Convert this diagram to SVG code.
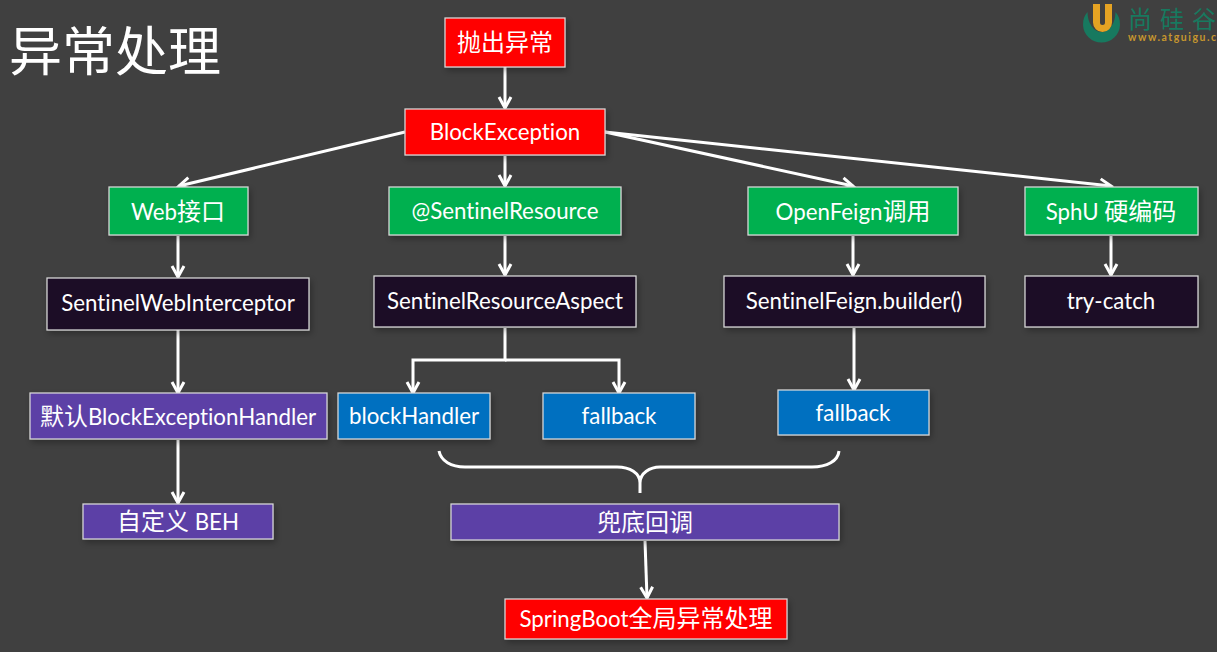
<svg xmlns="http://www.w3.org/2000/svg" width="1217" height="652" viewBox="0 0 1217 652">
<style>
text{font-family:Lato,"Noto Sans CJK SC",sans-serif;fill:#fff;font-size:22.300px;text-anchor:middle;font-variant-ligatures:none}
tspan{font-family:"Noto Sans CJK SC",sans-serif;font-size:24px}
.n rect{stroke:#d9d9d9;stroke-width:1.25;filter:url(#s)}
.r rect{fill:#ff0000}.g rect{fill:#00b050}.k rect{fill:#1e1028}.p rect{fill:#5b3fa6}.b rect{fill:#0070c0}
.c{fill:none;stroke:#fff;stroke-width:3}
</style>
<defs>
<filter id="s" x="-10%" y="-20%" width="120%" height="150%"><feDropShadow dx="2" dy="3" stdDeviation="3" flood-color="#000" flood-opacity=".3"/></filter>
<marker id="a" markerUnits="userSpaceOnUse" markerWidth="16" markerHeight="16" refX="13" refY="8" orient="auto"><path d="M2 2 L13 8 L2 14" fill="none" stroke="#fff" stroke-width="3"/></marker>
</defs>
<rect width="1217" height="652" fill="#404040"/>
<text x="115" y="71" style="font-size:53px;font-family:'Noto Sans CJK SC',sans-serif">异常处理</text>
<g id="logo">
<path d="M1087.500 12 A18.500 18.500 0 1 0 1115.500 12 A14 20 0 0 1 1087.500 12 Z" fill="#17795f"/>
<path d="M1096.500 4V22.500A6 6 0 0 0 1108.500 22.500V4" fill="none" stroke="#e5a323" stroke-width="7"/>
<text x="1128" y="28" textLength="88" style="font-size:24px;fill:#17795f;text-anchor:start;font-family:'Noto Sans CJK SC',sans-serif">尚硅谷</text>
<text x="1128" y="41" textLength="88" style="font-size:10.500px;fill:#c6962e;font-weight:700;text-anchor:start">www.atguigu.c</text>
</g>
<g id="connectors">
<path class="c" marker-end="url(#a)" d="M505 67V108"/>
<path class="c" marker-end="url(#a)" d="M405 132L179 186"/>
<path class="c" marker-end="url(#a)" d="M505 156V186"/>
<path class="c" marker-end="url(#a)" d="M605 132L853 186"/>
<path class="c" marker-end="url(#a)" d="M605 132L1111 186"/>
<path class="c" marker-end="url(#a)" d="M178 236V277"/>
<path class="c" marker-end="url(#a)" d="M505 236V275"/>
<path class="c" marker-end="url(#a)" d="M853 236V275"/>
<path class="c" marker-end="url(#a)" d="M1111 236V275"/>
<path class="c" marker-end="url(#a)" d="M178 330V393"/>
<path class="c" marker-end="url(#a)" d="M178 440V503"/>
<path class="c" marker-end="url(#a)" d="M505 328V360H413V393"/>
<path class="c" marker-end="url(#a)" d="M505 360H619V393"/>
<path class="c" marker-end="url(#a)" d="M854 328V390"/>
<path class="c" d="M439 451C441 461 451 467 465 467H617C630 467 640 473 640 483V493M640 483C640 473 650 467 660 467H812C827 467 838 461 839 451"/>
<path class="c" marker-end="url(#a)" d="M645 541L647 598"/>
</g>
<g id="n1" class="n r"><rect x="445" y="18" width="120" height="49"/><text x="505" y="51"><tspan>抛出异常</tspan></text></g>
<g id="n2" class="n r"><rect x="405" y="109" width="200" height="46"/><text x="505" y="140">BlockException</text></g>
<g id="n3" class="n g"><rect x="109" y="187" width="139" height="48"/><text x="178" y="220">Web<tspan>接口</tspan></text></g>
<g id="n4" class="n g"><rect x="389" y="187" width="232" height="48"/><text x="505" y="219">@SentinelResource</text></g>
<g id="n5" class="n g"><rect x="748" y="187" width="210" height="48"/><text x="853" y="220">OpenFeign<tspan>调用</tspan></text></g>
<g id="n6" class="n g"><rect x="1025" y="187" width="173" height="48"/><text x="1111" y="220">SphU <tspan>硬编码</tspan></text></g>
<g id="n7" class="n k"><rect x="47" y="278" width="262" height="52"/><text x="178" y="311">SentinelWebInterceptor</text></g>
<g id="n8" class="n k"><rect x="374" y="276" width="262" height="51"/><text x="505" y="309">SentinelResourceAspect</text></g>
<g id="n9" class="n k"><rect x="724" y="276" width="261" height="51"/><text x="854" y="309">SentinelFeign.builder()</text></g>
<g id="n10" class="n k"><rect x="1025" y="276" width="173" height="51"/><text x="1111" y="309">try-catch</text></g>
<g id="n11" class="n p"><rect x="30" y="393" width="297" height="46"/><text x="178" y="425"><tspan>默认</tspan>BlockExceptionHandler</text></g>
<g id="n12" class="n b"><rect x="338" y="393" width="152" height="46"/><text x="414" y="424">blockHandler</text></g>
<g id="n13" class="n b"><rect x="543" y="393" width="152" height="46"/><text x="619" y="424">fallback</text></g>
<g id="n14" class="n b"><rect x="778" y="390" width="151" height="45"/><text x="853" y="421">fallback</text></g>
<g id="n15" class="n p"><rect x="83" y="504" width="190" height="35"/><text x="178" y="530"><tspan>自定义</tspan> BEH</text></g>
<g id="n16" class="n p"><rect x="451" y="504" width="388" height="36"/><text x="645" y="531"><tspan>兜底回调</tspan></text></g>
<g id="n17" class="n r"><rect x="505" y="599" width="282" height="40"/><text x="646" y="627">SpringBoot<tspan>全局异常处理</tspan></text></g>
</svg>
